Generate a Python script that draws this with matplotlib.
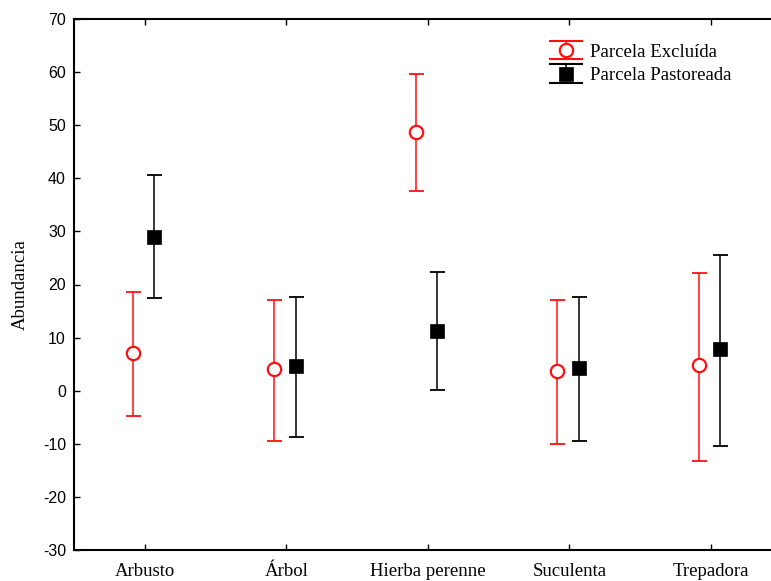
import matplotlib
matplotlib.use("Agg")
import matplotlib.pyplot as plt
from matplotlib.lines import Line2D
from matplotlib.legend_handler import HandlerBase
import numpy as np

categories = ["Arbusto", "Árbol", "Hierba perenne", "Suculenta", "Trepadora"]
excluida_mean = [7.1, 4.0, 48.8, 3.8, 4.8]
excluida_low = [-4.7, -9.5, 37.7, -10.0, -13.3]
excluida_high = [18.6, 17.0, 59.6, 17.0, 22.2]
pastoreada_mean = [29.0, 4.6, 11.2, 4.3, 7.9]
pastoreada_low = [17.4, -8.8, 0.2, -9.5, -10.4]
pastoreada_high = [40.6, 17.7, 22.3, 17.7, 25.6]
yticks = [-30, -20, -10, 0, 10, 20, 30, 40, 50, 60, 70]

RED = "#ff1010"
SERIF = ["Liberation Serif", "DejaVu Serif"]
SANS = ["Liberation Sans", "DejaVu Sans"]

fig = plt.figure(figsize=(7.71, 5.81), dpi=100)
ax = fig.add_axes([74.3 / 771, 31 / 581, 707.3 / 771, 531 / 581])

x = np.arange(len(categories))

def draw(xpos, mean, low, high, color, marker, mfc, mew):
    mean = np.asarray(mean)
    yerr = [mean - np.asarray(low), np.asarray(high) - mean]
    ax.errorbar(xpos, mean, yerr=yerr, fmt="none", ecolor=color,
                elinewidth=1.1, capsize=5.4, capthick=1.3, zorder=2)
    ax.plot(xpos, mean, linestyle="none", marker=marker, markersize=9.6,
            markerfacecolor=mfc, markeredgecolor=color, markeredgewidth=mew,
            zorder=3)

draw(x - 0.085, excluida_mean, excluida_low, excluida_high, RED, "o", "white", 1.6)
draw(x + 0.065, pastoreada_mean, pastoreada_low, pastoreada_high, "black", "s", "black", 0.5)

ax.set_xlim(-0.5, 4.5)
ax.set_ylim(-30, 70)
ax.set_yticks(yticks)
ax.set_yticklabels([str(v) for v in yticks], family=SANS, fontsize=11.5)
ax.set_xticks(x)
ax.set_xticklabels(categories, family=SERIF, fontsize=13.5)
ax.tick_params(axis="x", direction="in", top=True, length=4, width=1, pad=9)
ax.tick_params(axis="y", direction="in", length=4, width=1, pad=6)
for s in ax.spines.values():
    s.set_linewidth(1.5)
ax.set_ylabel("Abundancia", family=SERIF, fontsize=13.5, labelpad=10)


class ErrHandler(HandlerBase):
    def create_artists(self, legend, orig_handle, xdescent, ydescent,
                       width, height, fontsize, trans):
        color = orig_handle.get_color()
        cy = height / 2 - ydescent
        x0 = -xdescent
        x1 = -xdescent + width
        xc = (x0 + x1) / 2
        half = 0.5 * fontsize
        arts = [
            Line2D([x0, x1], [cy + half, cy + half], color=color, lw=1.5),
            Line2D([x0, x1], [cy - half, cy - half], color=color, lw=1.5),
            Line2D([xc, xc], [cy - half, cy + half], color=color, lw=1.1),
            Line2D([xc], [cy], marker=orig_handle.get_marker(),
                   markersize=orig_handle.get_markersize(),
                   markerfacecolor=orig_handle.get_markerfacecolor(),
                   markeredgecolor=orig_handle.get_markeredgecolor(),
                   markeredgewidth=orig_handle.get_markeredgewidth(),
                   linestyle="none"),
        ]
        for a in arts:
            a.set_transform(trans)
        return arts


h1 = Line2D([], [], color=RED, marker="o", markersize=9.6,
            markerfacecolor="white", markeredgecolor=RED, markeredgewidth=1.6)
h2 = Line2D([], [], color="black", marker="s", markersize=9.6,
            markerfacecolor="black", markeredgecolor="black", markeredgewidth=0.5)
leg = fig.legend([h1, h2], ["Parcela Excluída", "Parcela Pastoreada"],
                 loc="upper left", bbox_to_anchor=(550 / 771, 1 - 43.5 / 581),
                 frameon=False, borderpad=0, borderaxespad=0, handlelength=1.7,
                 handletextpad=0.43, labelspacing=0.34,
                 prop={"family": SERIF, "size": 13.5},
                 handler_map={Line2D: ErrHandler()})

fig.savefig("out.png", dpi=100)
